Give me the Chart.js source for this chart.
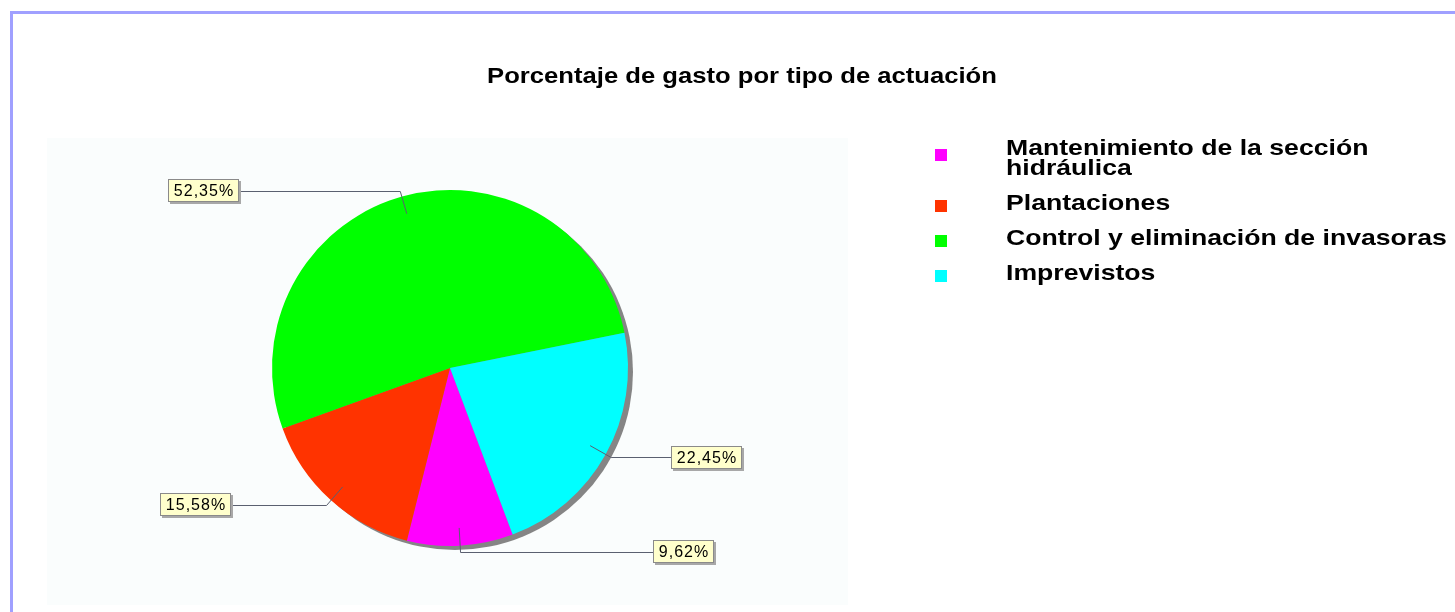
<!DOCTYPE html>
<html>
<head>
<meta charset="utf-8">
<script src="https://cdn.jsdelivr.net/npm/chart.js@4.4.1/dist/chart.umd.min.js"></script>
<style>
  html, body { margin: 0; padding: 0; background: #ffffff; }
  #wrap { position: relative; width: 1455px; height: 612px; overflow: hidden; }
  canvas { display: block; }
</style>
</head>
<body>
<div id="wrap"><canvas id="c" width="1455" height="612"></canvas></div>
<script>
// ---- data ----
const chartTitle = 'Porcentaje de gasto por tipo de actuación';
const categories = ['Mantenimiento de la sección hidráulica', 'Plantaciones', 'Control y eliminación de invasoras', 'Imprevistos'];
const percentages = [9.62, 15.58, 52.35, 22.45];
const sliceColors = ['#ff00ff', '#ff3300', '#00ff00', '#00ffff'];

const FONT = '"Liberation Sans", Arial, Helvetica, sans-serif';

function wideText(ctx, txt, x, y, sx) {
  ctx.save();
  ctx.translate(x, y);
  ctx.scale(sx, 1);
  ctx.fillText(txt, 0, 0);
  ctx.restore();
}

const framePlugin = {
  id: 'frame',
  beforeDraw(chart) {
    const ctx = chart.ctx;
    ctx.save();
    ctx.fillStyle = '#ffffff';
    ctx.fillRect(0, 0, chart.width, chart.height);
    // faint panel behind the pie
    ctx.fillStyle = '#fafdfd';
    ctx.fillRect(47, 138, 801, 467);
    // outer frame (top + left visible)
    ctx.strokeStyle = '#a0a0ff';
    ctx.lineWidth = 3;
    ctx.beginPath();
    ctx.moveTo(11.5, chart.height + 10);
    ctx.lineTo(11.5, 12.5);
    ctx.lineTo(chart.width + 10, 12.5);
    ctx.stroke();
    ctx.restore();
  },
  beforeDatasetsDraw(chart) {
    // drop shadow of the pie
    const arc = chart.getDatasetMeta(0).data[0];
    if (!arc) return;
    const ctx = chart.ctx;
    ctx.save();
    ctx.fillStyle = '#858585';
    ctx.beginPath();
    ctx.arc(arc.x + 5, arc.y + 4, arc.outerRadius, 0, Math.PI * 2);
    ctx.fill();
    ctx.restore();
  },
  afterDraw(chart, args, opts) {
    const ctx = chart.ctx;
    ctx.save();
    // title
    ctx.fillStyle = '#000000';
    ctx.font = 'bold 22px ' + FONT;
    ctx.textAlign = 'center';
    ctx.textBaseline = 'alphabetic';
    wideText(ctx, chartTitle, 742, 83, 1.165);

    // legend
    const lsx = 1.21;
    ctx.font = 'bold 22px ' + FONT;
    ctx.textAlign = 'left';
    let baseY = 155;
    const maxW = 450 / lsx;
    chart.data.labels.forEach((lab, i) => {
      const words = lab.split(' ');
      const lines = [];
      let cur = '';
      words.forEach(w => {
        const t = cur ? cur + ' ' + w : w;
        if (ctx.measureText(t).width > maxW && cur) { lines.push(cur); cur = w; }
        else cur = t;
      });
      if (cur) lines.push(cur);
      const sqC = baseY - 4 + (lines.length - 1) * 4;
      ctx.fillStyle = chart.data.datasets[0].backgroundColor[i];
      ctx.fillRect(935, Math.round(sqC - 6), 12, 12);
      ctx.fillStyle = '#000000';
      lines.forEach((ln, k) => wideText(ctx, ln, 1006, baseY + k * 19.5, lsx));
      baseY += (lines.length - 1) * 19.5 + 35;
    });

    // value labels with leader lines
    const meta = chart.getDatasetMeta(0);
    const values = chart.data.datasets[0].data;
    ctx.font = '16px ' + FONT;
    if ('letterSpacing' in ctx) ctx.letterSpacing = '1px';
    meta.data.forEach((arc, i) => {
      const mid = (arc.startAngle + arc.endAngle) / 2;
      const R = arc.outerRadius;
      const c = Math.cos(mid), s = Math.sin(mid);
      const x0 = arc.x + c * R * 0.9, y0 = arc.y + s * R * 0.9;
      const x1 = arc.x + c * R * 1.035, y1 = arc.y + s * R * 1.035;
      const dir = c >= 0 ? 1 : -1;
      const x2 = x1 + dir * opts.leaderLengths[i];
      const ex = Math.round(x2) + 0.5, ey = Math.round(y1) + 0.5;
      ctx.strokeStyle = '#5a6070';
      ctx.lineWidth = 1;
      ctx.beginPath();
      ctx.moveTo(x0, y0);
      ctx.lineTo(x1, ey);
      ctx.lineTo(ex, ey);
      ctx.stroke();
      const txt = values[i].toFixed(2).replace('.', ',') + '%';
      const tw = ctx.measureText(txt).width;
      const bw = Math.round(tw + 11), bh = 23;
      const bx = dir > 0 ? Math.round(x2) : Math.round(x2) - bw;
      const by = Math.round(y1 - bh / 2);
      ctx.fillStyle = '#a8a8a8';
      ctx.fillRect(bx + 2, by + 2, bw, bh);
      ctx.fillStyle = '#ffffcc';
      ctx.fillRect(bx, by, bw, bh);
      ctx.strokeStyle = '#8a8a8a';
      ctx.strokeRect(bx + 0.5, by + 0.5, bw - 1, bh - 1);
      ctx.fillStyle = '#000000';
      ctx.textAlign = 'center';
      ctx.textBaseline = 'middle';
      ctx.fillText(txt, bx + bw / 2 + 0.5, by + bh / 2 + 1);
    });
    ctx.restore();
  }
};

new Chart(document.getElementById('c'), {
  type: 'pie',
  data: {
    labels: categories,
    datasets: [{
      data: percentages,
      backgroundColor: sliceColors,
      borderWidth: 0,
      hoverOffset: 0
    }]
  },
  options: {
    responsive: false,
    animation: false,
    rotation: 159.4,
    layout: { padding: { left: 272, right: 827, top: 190, bottom: 66 } },
    plugins: {
      legend: { display: false },
      title: { display: false },
      tooltip: { enabled: false },
      frame: { leaderLengths: [192, 96, 161, 60] }
    },
    events: []
  },
  plugins: [framePlugin]
});
</script>
</body>
</html>
